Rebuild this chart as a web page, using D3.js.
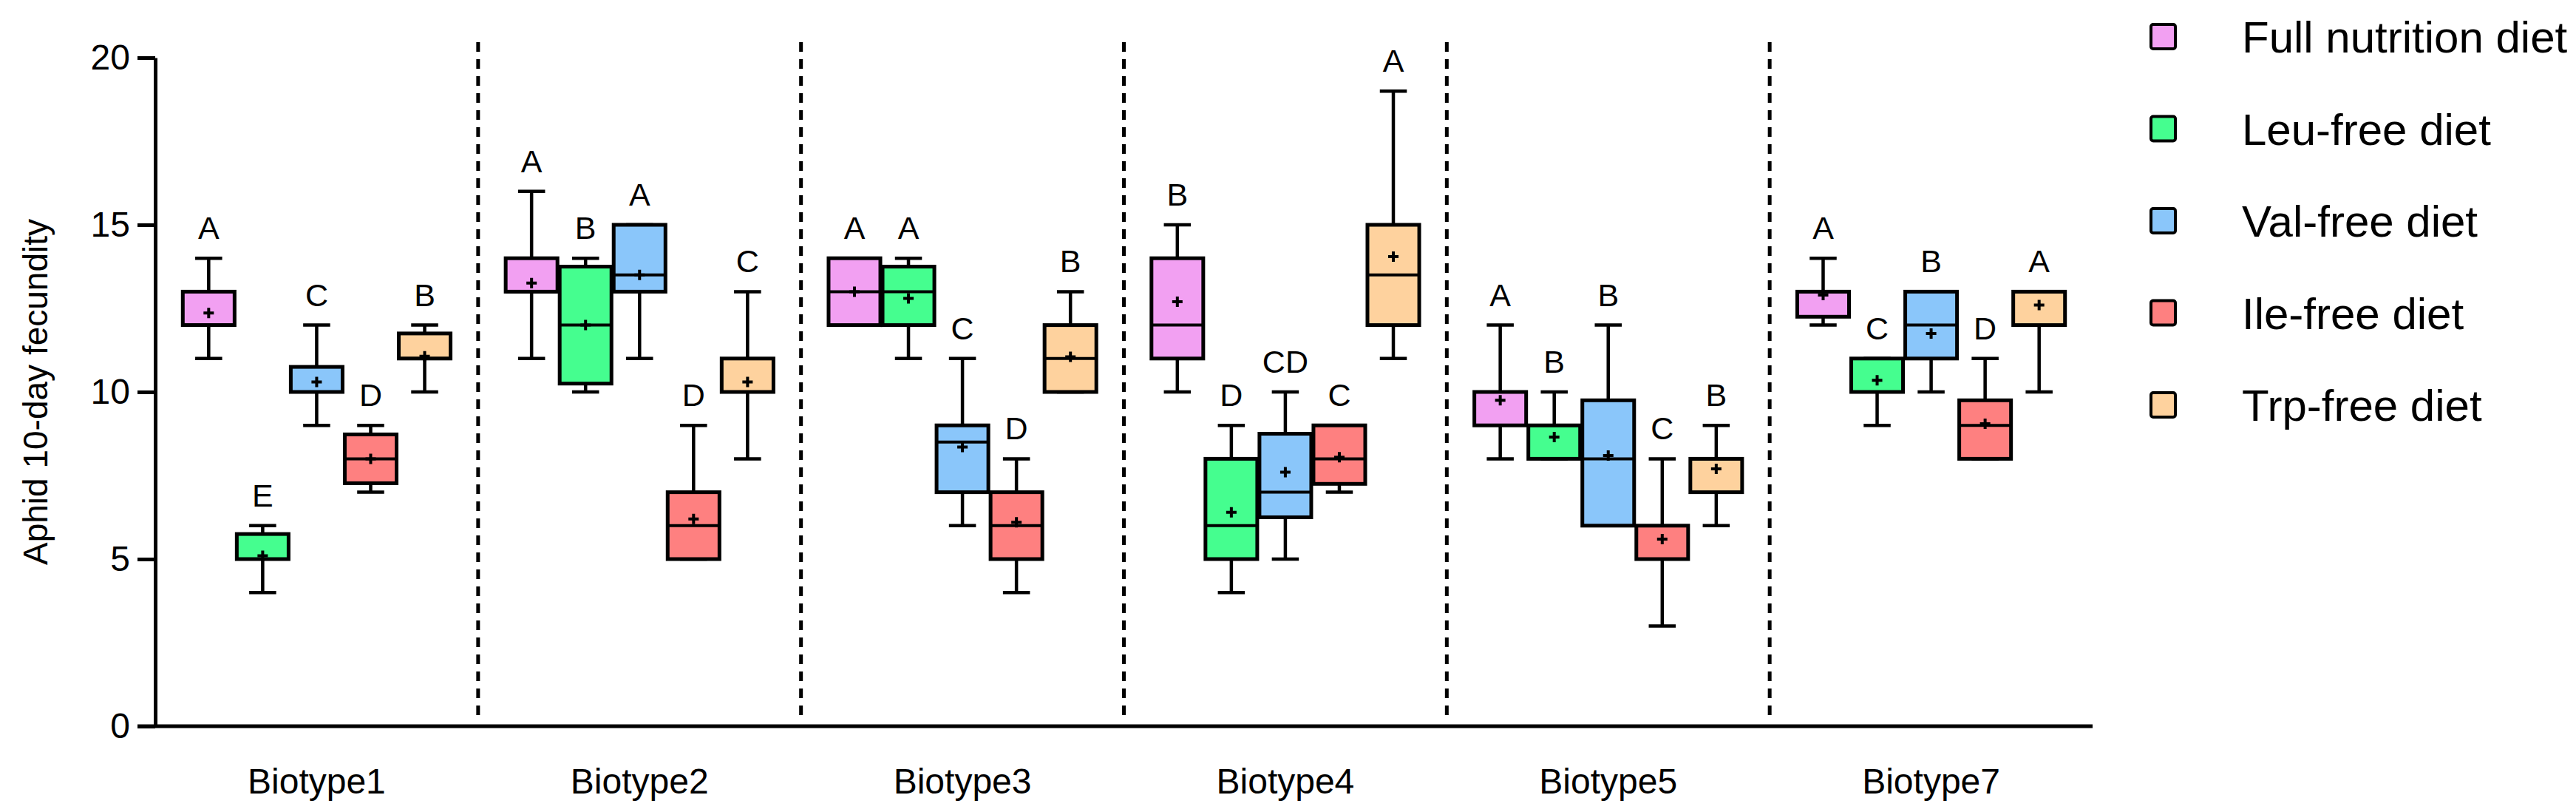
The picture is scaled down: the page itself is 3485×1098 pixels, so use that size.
<!DOCTYPE html>
<html>
<head>
<meta charset="utf-8">
<script src="https://cdn.jsdelivr.net/npm/d3@7"></script>
<style>
	body { margin: 0; background: #fff; }
	text { font-family: "Liberation Sans", Arial, sans-serif; fill: #000; }
</style>
</head>
<body>
<script>
// data
const biotypes = ["Biotype1", "Biotype2", "Biotype3", "Biotype4", "Biotype5", "Biotype7"];
const diets = ["Full nutrition diet", "Leu-free diet", "Val-free diet", "Ile-free diet", "Trp-free diet"];
const dietColors = ["#f2a0f2", "#45fe8f", "#8ac6fa", "#fe8080", "#fed29e"];

// per biotype, values in diet order
const whiskerMin = [
	[11, 4, 9, 7, 10],
	[11, 10, 11, 5, 8],
	[12, 11, 6, 4, 10],
	[10, 4, 5, 7, 11],
	[8, 8, 6, 3, 6],
	[12, 9, 10, 8, 10]
];
const q1 = [
	[12, 5, 10, 7.27, 11],
	[13, 10.25, 13, 5, 10],
	[12, 12, 7, 5, 10],
	[11, 5, 6.25, 7.25, 12],
	[9, 8, 6, 5, 7],
	[12.25, 10, 11, 8, 12]
];
const median = [
	[12, 5, 10, 8, 11],
	[13, 12, 13.5, 6, 10],
	[13, 13, 8.5, 6, 11],
	[12, 6, 7, 8, 13.5],
	[10, 9, 8, 5, 8],
	[13, 10, 12, 9, 13]
];
const q3 = [
	[13, 5.75, 10.75, 8.73, 11.75],
	[14, 13.75, 15, 7, 11],
	[14, 13.75, 9, 7, 12],
	[14, 8, 8.75, 9, 15],
	[10, 9, 9.75, 6, 8],
	[13, 11, 13, 9.75, 13]
];
const whiskerMax = [
	[14, 6, 12, 9, 12],
	[16, 14, 15, 9, 13],
	[14, 14, 11, 8, 13],
	[15, 9, 10, 9, 19],
	[12, 10, 12, 8, 9],
	[14, 11, 13, 11, 13]
];
const means = [
	[12.36, 5.1, 10.3, 8.0, 11.07],
	[13.26, 12.0, 13.5, 6.2, 10.3],
	[13.0, 12.8, 8.35, 6.1, 11.05],
	[12.7, 6.4, 7.6, 8.05, 14.05],
	[9.75, 8.65, 8.1, 5.6, 7.7],
	[12.9, 10.35, 11.75, 9.05, 12.6]
];
const letters = [
	["A", "E", "C", "D", "B"],
	["A", "B", "A", "D", "C"],
	["A", "A", "C", "D", "B"],
	["B", "D", "CD", "C", "A"],
	["A", "B", "B", "C", "B"],
	["A", "C", "B", "D", "A"]
];
const yTicks = [0, 5, 10, 15, 20];

// flatten into rows for d3
const boxes = [];
biotypes.forEach((b, i) => {
	diets.forEach((d, j) => {
		boxes.push({
			biotype: b, diet: d, color: dietColors[j],
			min: whiskerMin[i][j], q1: q1[i][j], med: median[i][j],
			q3: q3[i][j], max: whiskerMax[i][j], mean: means[i][j],
			letter: letters[i][j]
		});
	});
});

const svgWidth = 3485;
const svgHeight = 1098;
const lw = 5;

const svg = d3.select("body").append("svg")
	.attr("width", svgWidth)
	.attr("height", svgHeight);

//scales
const x0 = d3.scaleBand().domain(biotypes).range([210, 2831]);
const x1 = d3.scaleBand().domain(diets).range([0, x0.bandwidth()])
	.paddingInner(0).paddingOuter(0.49);
const y = d3.scaleLinear().domain([0, 20]).range([982, 78]);

const bx = (d) => x0(d.biotype) + x1(d.diet);
const bw = x1.bandwidth();
const cx = (d) => bx(d) + bw / 2;

//=====
//group separators
//=====
svg.selectAll(".sep")
	.data(biotypes.slice(1))
	.enter()
	.append("line")
	.attr("class", "sep")
	.attr("x1", (d) => x0(d))
	.attr("x2", (d) => x0(d))
	.attr("y1", 57)
	.attr("y2", 975)
	.attr("stroke", "#000")
	.attr("stroke-width", lw)
	.attr("stroke-dasharray", "13,10");

//=====
//axes
//=====
const yAxis = svg.append("g")
	.attr("transform", `translate(${x0.range()[0]},0)`)
	.call(d3.axisLeft(y).tickValues(yTicks).tickSize(24).tickSizeOuter(0).tickPadding(10));
yAxis.select(".domain").attr("stroke-width", lw);
yAxis.selectAll(".tick line").attr("stroke-width", lw);
yAxis.selectAll(".tick text")
	.attr("font-size", 48)
	.attr("font-family", "Liberation Sans, Arial, sans-serif");

svg.append("line")
	.attr("x1", x0.range()[0] - 24)
	.attr("x2", x0.range()[1])
	.attr("y1", y(0))
	.attr("y2", y(0))
	.attr("stroke", "#000")
	.attr("stroke-width", lw);

svg.selectAll(".group-label")
	.data(biotypes)
	.enter()
	.append("text")
	.attr("class", "group-label")
	.attr("x", (d) => x0(d) + x0.bandwidth() / 2)
	.attr("y", 1073)
	.attr("text-anchor", "middle")
	.attr("font-size", 48)
	.text((d) => d);

svg.append("text")
	.attr("transform", `translate(64, ${(y(0) + y(20)) / 2}) rotate(-90)`)
	.attr("text-anchor", "middle")
	.attr("font-size", 46)
	.text("Aphid 10-day fecundity");

//=====
//box plots
//=====
const g = svg.selectAll(".box").data(boxes).enter().append("g").attr("class", "box");

// whiskers
g.append("line")
	.attr("x1", cx).attr("x2", cx)
	.attr("y1", (d) => y(d.min)).attr("y2", (d) => y(d.max))
	.attr("stroke", "#000").attr("stroke-width", lw - 0.5);
g.append("line")
	.attr("x1", (d) => cx(d) - bw / 4).attr("x2", (d) => cx(d) + bw / 4)
	.attr("y1", (d) => y(d.min)).attr("y2", (d) => y(d.min))
	.attr("stroke", "#000").attr("stroke-width", lw - 0.5);
g.append("line")
	.attr("x1", (d) => cx(d) - bw / 4).attr("x2", (d) => cx(d) + bw / 4)
	.attr("y1", (d) => y(d.max)).attr("y2", (d) => y(d.max))
	.attr("stroke", "#000").attr("stroke-width", lw - 0.5);

// box
g.append("rect")
	.attr("x", (d) => bx(d) + 1.5)
	.attr("width", bw - 3)
	.attr("y", (d) => y(d.q3))
	.attr("height", (d) => y(d.q1) - y(d.q3))
	.attr("fill", (d) => d.color)
	.attr("stroke", "#000")
	.attr("stroke-width", lw);

// median
g.append("line")
	.attr("x1", (d) => bx(d) + 1.5).attr("x2", (d) => bx(d) + bw - 1.5)
	.attr("y1", (d) => y(d.med)).attr("y2", (d) => y(d.med))
	.attr("stroke", "#000").attr("stroke-width", lw - 1);

// mean +
g.append("path")
	.attr("d", (d) => `M${cx(d) - 7},${y(d.mean)}h14M${cx(d)},${y(d.mean) - 7}v14`)
	.attr("stroke", "#000").attr("stroke-width", 4);

// letters
g.append("text")
	.attr("x", cx)
	.attr("y", (d) => y(d.max) - 26)
	.attr("text-anchor", "middle")
	.attr("font-size", 43)
	.text((d) => d.letter);

//=====
//legend
//=====
const legend = svg.selectAll(".legend")
	.data(diets)
	.enter()
	.append("g")
	.attr("class", "legend")
	.attr("transform", (d, i) => `translate(2910, ${49 + i * 124.5})`);

legend.append("rect")
	.attr("x", 0).attr("y", -16)
	.attr("width", 33).attr("height", 33)
	.attr("rx", 3)
	.attr("fill", (d, i) => dietColors[i])
	.attr("stroke", "#000")
	.attr("stroke-width", 4);

legend.append("text")
	.attr("x", 123)
	.attr("y", 22)
	.attr("font-size", 60)
	.text((d) => d);
</script>
</body>
</html>
